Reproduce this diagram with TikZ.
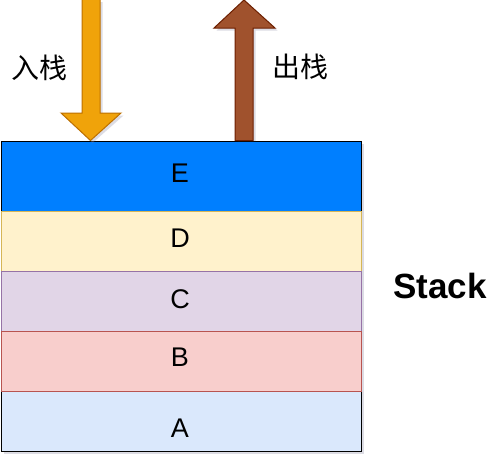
\documentclass[tikz,border=0pt]{standalone}
\usepackage{fontspec}
\setmainfont{Liberation Sans}
\newfontfamily\cjkfont{Noto Sans CJK SC}
\definecolor{eblue}{HTML}{007FFF}
\definecolor{dfill}{HTML}{FFF2CC}\definecolor{dline}{HTML}{D6B656}
\definecolor{cfill}{HTML}{E1D5E7}\definecolor{cline}{HTML}{9673A6}
\definecolor{bfill}{HTML}{F8CECC}\definecolor{bline}{HTML}{B85450}
\definecolor{afill}{HTML}{DAE8FC}
\definecolor{ofill}{HTML}{F0A30A}\definecolor{oline}{HTML}{BD7000}
\definecolor{brfill}{HTML}{A0522D}\definecolor{brline}{HTML}{6D1F00}
\definecolor{shcol}{HTML}{8C8CA8}
\tikzset{
  layer/.style={draw=#1, line width=1pt, minimum width=360pt, inner sep=0pt, anchor=north west},
  letter/.style={font=\fontsize{27}{30}\selectfont, inner sep=0pt, text=black},
  cjk/.style={font=\cjkfont\fontsize{28}{32}\selectfont, inner sep=0pt, text=black},
  shade/.style={fill=shcol, opacity=0.3, draw=none},
}
\begin{document}
\begin{tikzpicture}[x=1pt,y=-1pt]
\useasboundingbox[fill=white] (0,0) rectangle (499,461);
% box shadow
\fill[shade] (3.5,143.5) rectangle (363.5,453.5);
% layers
\node[layer=black, fill=eblue, minimum height=70pt] (E) at (0.5,140.5) {};
\node[layer=dline, fill=dfill, minimum height=60pt] (D) at (0.5,210.5) {};
\node[layer=cline, fill=cfill, minimum height=60pt] (C) at (0.5,270.5) {};
\node[layer=black, fill=afill, minimum height=60pt] (A) at (0.5,390.5) {};
\node[layer=bline, fill=bfill, minimum height=60pt] (B) at (0.5,330.5) {};
% letters
\node[letter] (tE) at (180,173.5) {E};
\node[letter] (tD) at (180,238) {D};
\node[letter] (tC) at (180,299) {C};
\node[letter] (tB) at (180,357.5) {B};
\node[letter] (tA) at (180,428.5) {A};
% arrow shadows
\fill[shade] (84.5,2) -- (102.5,2) -- (102.5,115.5) -- (123.5,115.5) -- (92.5,143) -- (63.5,115.5) -- (84.5,115.5) -- cycle;
\fill[shade] (246.5,2.5) -- (277.5,30.5) -- (255.5,30.5) -- (255.5,141) -- (237.5,141) -- (237.5,30.5) -- (216.5,30.5) -- cycle;
% push arrow (orange, down)
\filldraw[fill=ofill, draw=oline, line width=1pt, line join=miter]
  (82,-1) -- (100,-1) -- (100,113) -- (121,113) -- (90.5,140.5) -- (61,113) -- (82,113) -- cycle;
% pop arrow (brown, up)
\filldraw[fill=brfill, draw=brline, line width=1pt, line join=miter]
  (244,0) -- (275,28) -- (253,28) -- (253,140.5) -- (235,140.5) -- (235,28) -- (214,28) -- cycle;
% labels
\node[cjk] (push) at (40,67.5) {入栈};
\node[cjk] (pop) at (300,67) {出栈};
\node[font=\bfseries\fontsize{35}{40}\selectfont, inner sep=0pt] (stack) at (440,285.5) {Stack};
\end{tikzpicture}
\end{document}
